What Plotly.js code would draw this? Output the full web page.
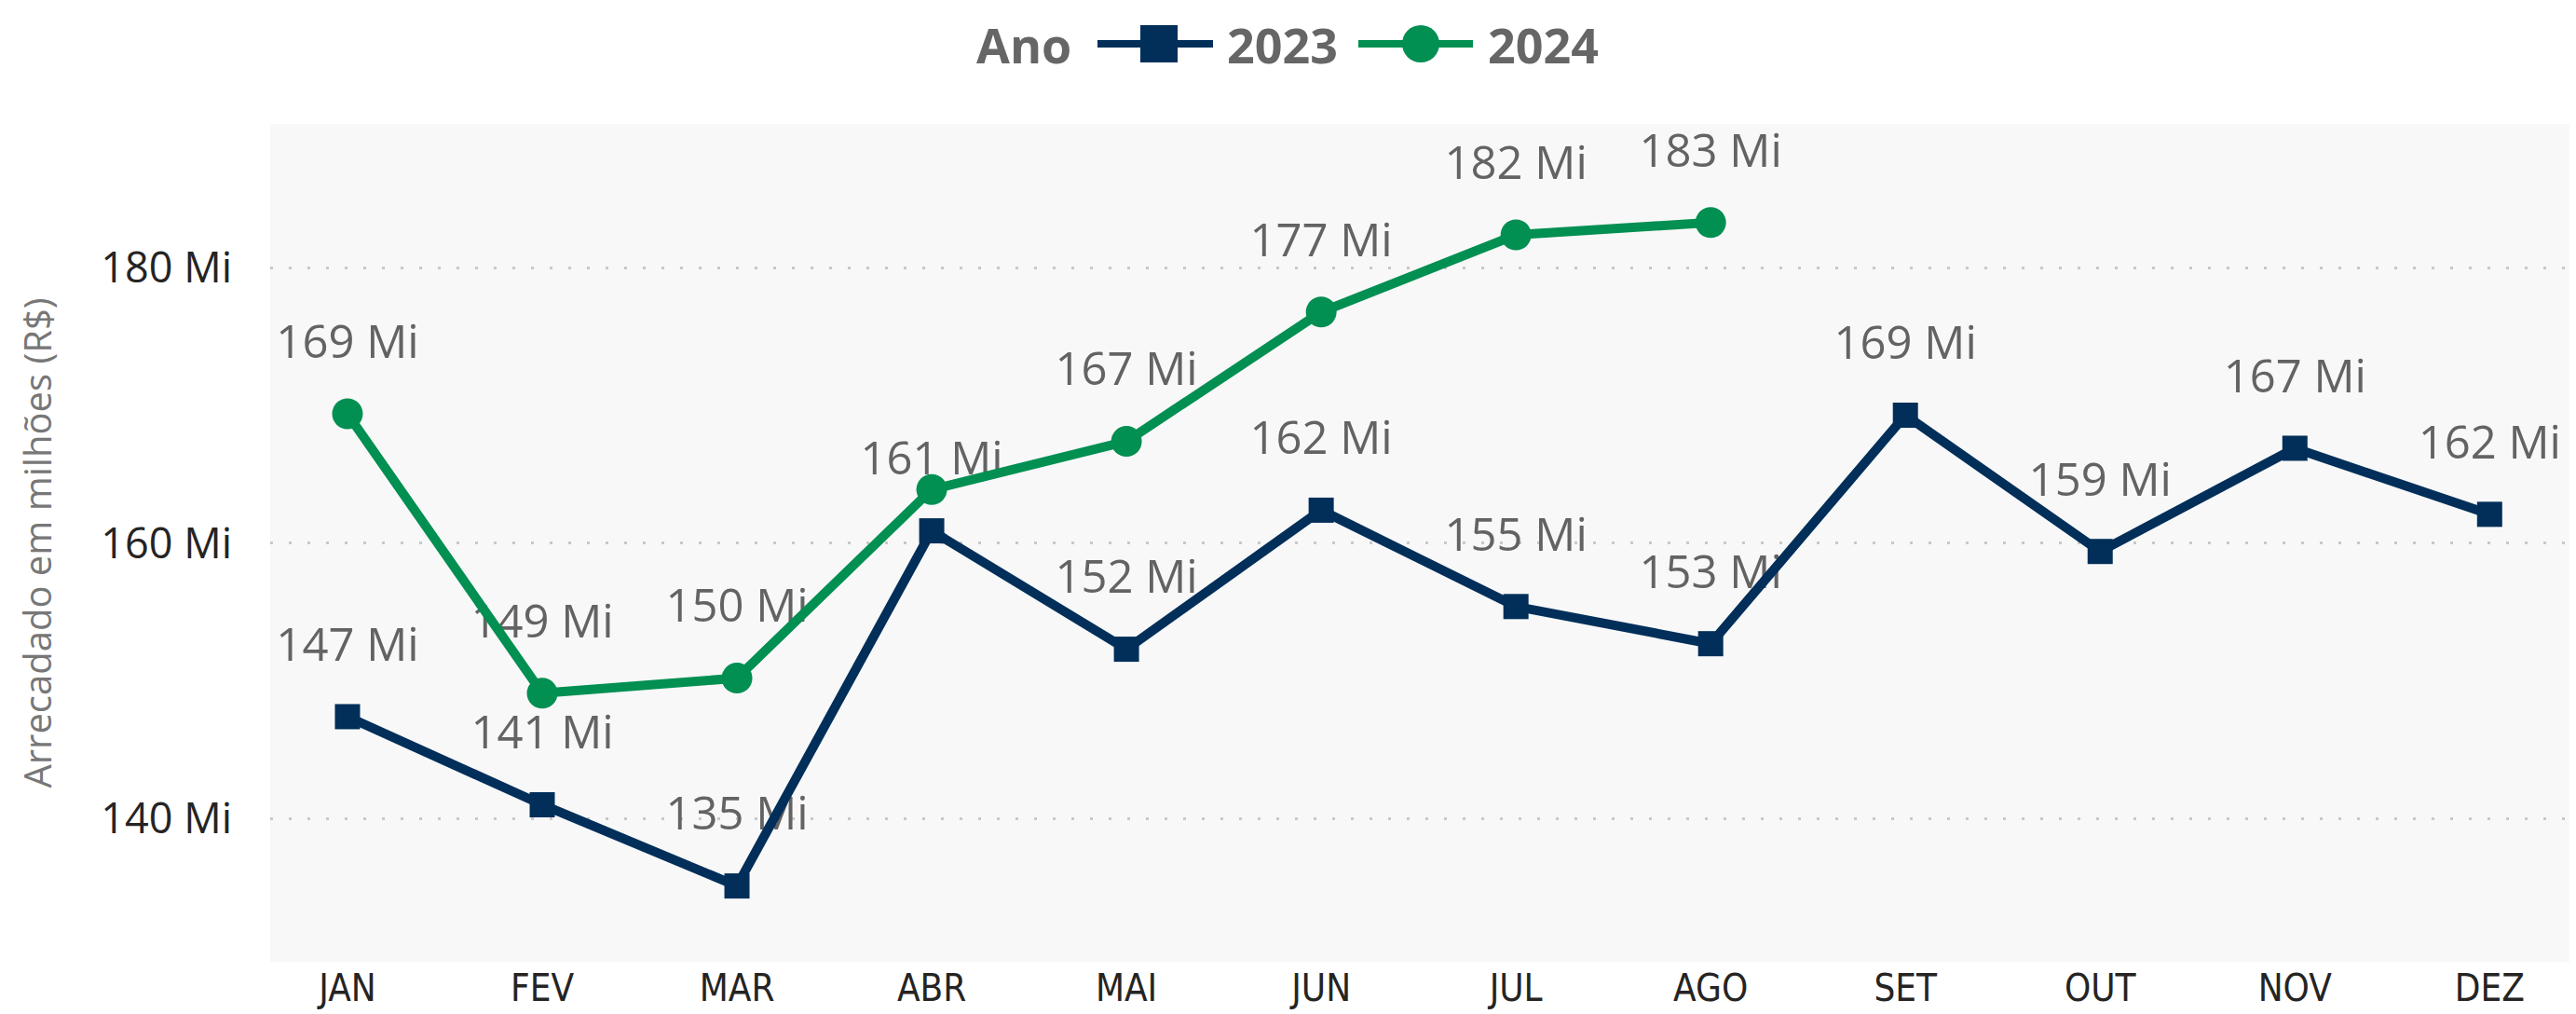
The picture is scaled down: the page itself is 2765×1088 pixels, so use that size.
<!DOCTYPE html>
<html>
<head>
<meta charset="utf-8">
<script src="https://cdn.plot.ly/plotly-3.0.1.min.js"></script>
<style>
  html, body { margin: 0; padding: 0; background: #ffffff; }
  #chart { width: 2765px; height: 1088px; }
</style>
</head>
<body>
<div id="chart"></div>
<script>
// ---------- data ----------
const months = ['JAN', 'FEV', 'MAR', 'ABR', 'MAI', 'JUN', 'JUL', 'AGO', 'SET', 'OUT', 'NOV', 'DEZ'];
const values2023 = [147.4, 141.0, 135.1, 160.9, 152.3, 162.4, 155.4, 152.7, 169.3, 159.4, 166.9, 162.1];
const months2024 = ['JAN', 'FEV', 'MAR', 'ABR', 'MAI', 'JUN', 'JUL', 'AGO'];
const values2024 = [169.4, 149.1, 150.2, 163.9, 167.4, 176.8, 182.4, 183.3];
const showLabel2024 = [true, true, true, false, true, true, true, true];
const yTickVals = [140, 160, 180];
const seriesNames = ['2023', '2024'];
const legendTitle = 'Ano';
const yAxisTitle = 'Arrecadado em milhões (R$)';
const labelSuffix = ' Mi';

// ---------- styling ----------
const W = 2765, H = 1088;
const PL = 290, PR = 2758, PT = 133, PB = 1032;
const navy = '#012f5a';
const green = '#018f52';
const labelColor = '#636363';
const fmt = v => Math.round(v) + labelSuffix;

const px2x = px => (px - PL) / (PR - PL);
const px2y = py => (PB - py) / (PB - PT);

const labelFont = { family: 'Open Sans, Noto Sans, sans-serif', size: 49, color: labelColor };

const traces = [
  {
    x: months, y: values2023, type: 'scatter', mode: 'markers+text',
    text: values2023.map(fmt), textposition: 'top center',
    textfont: labelFont,
    marker: { size: 75, opacity: 0 }, hoverinfo: 'skip', showlegend: false, cliponaxis: false
  },
  {
    x: months2024, y: values2024, type: 'scatter', mode: 'markers+text',
    text: values2024.map((v, i) => showLabel2024[i] ? fmt(v) : ''), textposition: 'top center',
    textfont: labelFont,
    marker: { size: 75, opacity: 0 }, hoverinfo: 'skip', showlegend: false, cliponaxis: false
  },
  {
    x: months, y: values2023, name: seriesNames[0], type: 'scatter', mode: 'lines+markers',
    line: { color: navy, width: 10 },
    marker: { symbol: 'square', size: 27, color: navy },
    showlegend: false, cliponaxis: false
  },
  {
    x: months2024, y: values2024, name: seriesNames[1], type: 'scatter', mode: 'lines+markers',
    line: { color: green, width: 10 },
    marker: { symbol: 'circle', size: 33, color: green },
    showlegend: false, cliponaxis: false
  }
];

// ---------- custom legend (pixel positions converted to paper) ----------
const legY = 47;
const legendFont = { family: 'Open Sans, Noto Sans, sans-serif', size: 52, color: '#666666', weight: 700 };
const shapes = [
  { type: 'line', xref: 'paper', yref: 'paper', x0: px2x(1178), x1: px2x(1302), y0: px2y(legY), y1: px2y(legY),
    line: { color: navy, width: 8 } },
  { type: 'rect', xref: 'paper', yref: 'paper', x0: px2x(1224), x1: px2x(1264), y0: px2y(27), y1: px2y(67),
    fillcolor: navy, line: { width: 0 } },
  { type: 'line', xref: 'paper', yref: 'paper', x0: px2x(1458), x1: px2x(1581), y0: px2y(legY), y1: px2y(legY),
    line: { color: green, width: 8 } },
  { type: 'circle', xref: 'paper', yref: 'paper', x0: px2x(1505), x1: px2x(1545), y0: px2y(27), y1: px2y(67),
    fillcolor: green, line: { width: 0 } }
];
const annotations = [
  { text: legendTitle, xref: 'paper', yref: 'paper', x: px2x(1046), y: px2y(legY), xanchor: 'left', yanchor: 'middle',
    showarrow: false, font: legendFont },
  { text: seriesNames[0], xref: 'paper', yref: 'paper', x: px2x(1315), y: px2y(legY), xanchor: 'left', yanchor: 'middle',
    showarrow: false, font: legendFont },
  { text: seriesNames[1], xref: 'paper', yref: 'paper', x: px2x(1595), y: px2y(legY), xanchor: 'left', yanchor: 'middle',
    showarrow: false, font: legendFont }
];

const layout = {
  width: W, height: H,
  margin: { l: PL, r: W - PR, t: PT, b: H - PB, pad: 0 },
  paper_bgcolor: '#ffffff',
  plot_bgcolor: '#f8f8f8',
  showlegend: false,
  font: { family: 'Open Sans, Noto Sans, sans-serif' },
  xaxis: {
    type: 'category',
    categoryorder: 'array', categoryarray: months,
    range: [-0.397, 11.41],
    showgrid: false, zeroline: false, showline: false, ticks: '',
    tickfont: { family: 'Liberation Sans Narrow, DejaVu Sans Condensed, Roboto, sans-serif', size: 40, color: '#252423' },
    ticklabelstandoff: 1
  },
  yaxis: {
    range: [129.59, 190.46],
    tickvals: yTickVals,
    ticktext: yTickVals.map(v => v + labelSuffix),
    showgrid: true, gridcolor: '#c8c8c8', gridwidth: 3, griddash: '3px,17px',
    zeroline: false, showline: false, ticks: '',
    tickfont: { family: 'Open Sans, Noto Sans, sans-serif', size: 45, color: '#252423' },
    ticklabelstandoff: 40,
    title: { text: yAxisTitle, standoff: 40, font: { family: 'Open Sans, Noto Sans, sans-serif', size: 40, color: '#777777' } }
  },
  shapes: shapes,
  annotations: annotations
};

Plotly.newPlot('chart', traces, layout, { displayModeBar: false, staticPlot: true });
</script>
</body>
</html>
